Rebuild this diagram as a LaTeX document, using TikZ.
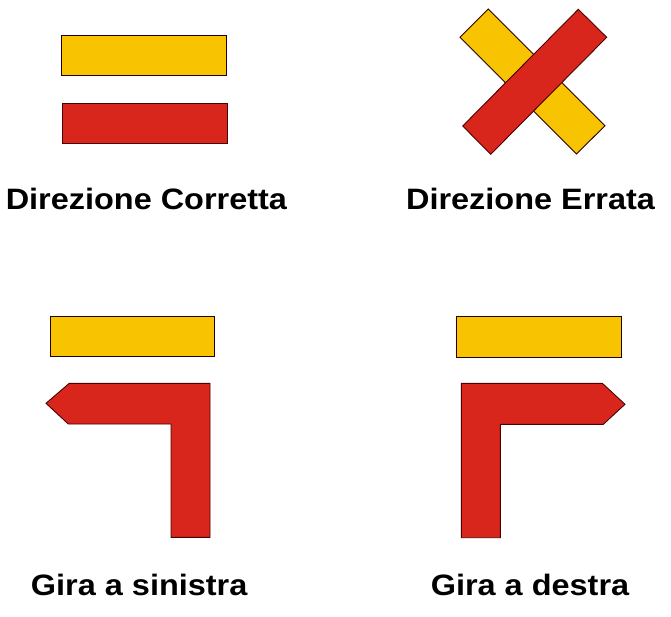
\documentclass[tikz,border=0pt]{standalone}
\usepackage{fontspec}
\setmainfont[FakeStretch=1.1]{Liberation Sans}
\begin{document}
\begin{tikzpicture}[x=1pt,y=-1pt,
  yel/.style={fill=signyellow,draw=black!85!red,line width=0.9pt,line join=miter},
  rd/.style={fill=signred,draw=black!70!red,line width=0.9pt,line join=miter},
  lbl/.style={anchor=base,inner sep=0pt,font=\fontsize{29.5}{32}\selectfont\bfseries}]
\definecolor{signyellow}{HTML}{F8C300}
\definecolor{signred}{HTML}{D9261C}
\useasboundingbox (0,0) rectangle (671,617);
% Direzione Corretta
\draw[yel] (61.3,35) rectangle (226.7,75);
\draw[rd] (62.3,103.3) rectangle (227.3,143.3);
\node[lbl] (t1) at (146.4,209.3) {Direzione Corretta};
% Direzione Errata
\draw[yel] (460,37.3) -- (488.3,9) -- (605,125.7) -- (576.5,154) -- cycle;
\draw[rd] (462.7,126) -- (578.3,9.3) -- (606.7,37.3) -- (490.7,154.3) -- cycle;
\node[lbl] (t2) at (530.5,209.3) {Direzione Errata};
% Gira a sinistra
\draw[yel] (50.3,316) rectangle (214.3,356);
\draw[rd] (69.3,383.3) -- (210,383.3) -- (210,537.3) -- (171,537.3) -- (171,424) -- (68.3,424) -- (46,403.3) -- cycle;
\node[lbl] (t3) at (139.2,595) {Gira a sinistra};
% Gira a destra
\draw[yel] (456.3,316) rectangle (621.7,357.3);
\draw[rd] (461.3,383.3) -- (602.3,383.3) -- (625,404.3) -- (603.3,424.3) -- (500.3,424.3) -- (500.3,537.7) -- (461.3,537.7) -- cycle;
\node[lbl] (t4) at (530,595) {Gira a destra};
\end{tikzpicture}
\end{document}
